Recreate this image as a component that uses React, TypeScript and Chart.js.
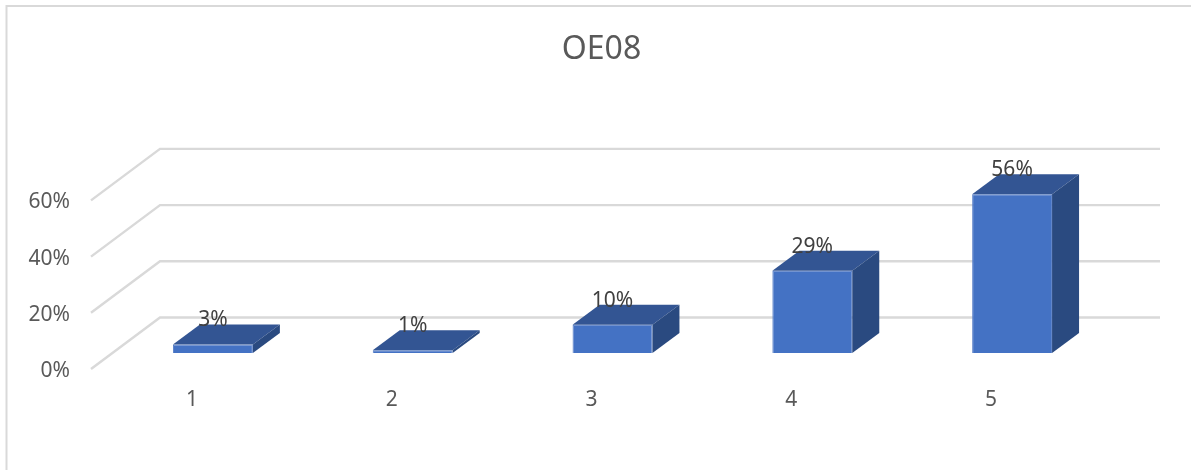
import { useEffect, useRef } from "react";
import { Chart, registerables } from "chart.js";

Chart.register(...registerables);

const categories = ["1", "2", "3", "4", "5"];
const shares = [3, 1, 10, 29, 56];
const chartTitle = "OE08";

const FONT = '"Noto Sans", "Open Sans", sans-serif';
const FRONT = "#4472C4";
const TOP = "#335593";
const SIDE = "#2A4A80";
const EDGE = "#5A80C8";
const GRID = "#D9D9D9";

// Box depth of the bars and of the floor, in canvas pixels.
const BAR_DX = 27;
const BAR_DY = -20;
const WALL_DX = 69;
const WALL_DY = -51.5;
const WALL_RIGHT = 1160;

const face = (ctx: CanvasRenderingContext2D, pts: number[][], fill: string) => {
  ctx.beginPath();
  pts.forEach(([x, y], i) => (i ? ctx.lineTo(x, y) : ctx.moveTo(x, y)));
  ctx.closePath();
  ctx.fillStyle = fill;
  ctx.fill();
};

// Frame of the chart object: only its top and left edges are visible.
const framePlugin = {
  id: "frame",
  beforeDraw(chart: Chart) {
    const { ctx, width, height } = chart;
    ctx.save();
    ctx.fillStyle = "#FFFFFF";
    ctx.fillRect(0, 0, width, height);
    ctx.strokeStyle = GRID;
    ctx.lineWidth = 2;
    ctx.beginPath();
    ctx.moveTo(6.5, height);
    ctx.lineTo(6.5, 6);
    ctx.lineTo(width, 6);
    ctx.stroke();
    ctx.restore();
  },
};

// Gridlines run from the front of the floor to the back wall and across it.
const wallPlugin = {
  id: "wall",
  beforeDatasetsDraw(chart: Chart) {
    const { ctx, scales } = chart;
    const y = scales.y;
    ctx.save();
    ctx.strokeStyle = GRID;
    ctx.lineWidth = 2.4;
    y.ticks.forEach((_t: unknown, i: number) => {
      const py = y.getPixelForTick(i);
      ctx.beginPath();
      ctx.moveTo(91, py);
      ctx.lineTo(91 + WALL_DX, py + WALL_DY);
      ctx.lineTo(WALL_RIGHT, py + WALL_DY);
      ctx.stroke();
    });
    ctx.restore();
  },
};

// Top and side faces are extruded from each bar's own geometry.
const boxPlugin = {
  id: "box",
  afterDatasetDraw(chart: Chart) {
    const { ctx } = chart;
    const bars = chart.getDatasetMeta(0).data as any[];
    ctx.save();
    bars.forEach((bar, i) => {
      const { x, y, base, width } = bar.getProps(["x", "y", "base", "width"], true);
      const l = x - width / 2;
      const r = x + width / 2;
      face(ctx, [[l, y], [l + BAR_DX, y + BAR_DY], [r + BAR_DX, y + BAR_DY], [r, y]], TOP);
      face(ctx, [[r, y], [r + BAR_DX, y + BAR_DY], [r + BAR_DX, base + BAR_DY], [r, base]], SIDE);
      ctx.fillStyle = "#404040";
      ctx.font = `21px ${FONT}`;
      ctx.textAlign = "center";
      ctx.textBaseline = "middle";
      ctx.fillText(`${shares[i]}%`, x, y - 24);
    });
    ctx.restore();
  },
};

export default function App() {
  const ref = useRef<HTMLCanvasElement>(null);

  useEffect(() => {
    if (!ref.current) return;
    const chart = new Chart(ref.current, {
      type: "bar",
      plugins: [framePlugin, wallPlugin, boxPlugin],
      data: {
        labels: categories,
        datasets: [
          {
            data: shares,
            yAxisID: "yBar",
            backgroundColor: FRONT,
            borderColor: EDGE,
            borderWidth: 1,
            barPercentage: 0.4,
            categoryPercentage: 1,
            clip: false,
          },
        ],
      },
      options: {
        animation: false,
        responsive: false,
        layout: { padding: { left: 12, right: 0, top: 0, bottom: 0 } },
        plugins: {
          legend: { display: false },
          tooltip: { enabled: false },
          title: {
            display: true,
            text: chartTitle,
            color: "#595959",
            font: { family: FONT, size: 32, weight: "normal" },
            padding: { top: 31, bottom: 131 },
          },
        },
        scales: {
          x: {
            grid: { display: false },
            border: { display: false },
            afterFit: (s: any) => {
              s.height = 101;
            },
            ticks: {
              color: "#595959",
              font: { family: FONT, size: 21 },
              padding: 10,
              labelOffset: -21,
              maxRotation: 0,
            },
          },
          y: {
            min: 0,
            max: 60,
            grid: { display: false },
            border: { display: false },
            afterFit: (s: any) => {
              s.width = 101;
            },
            ticks: {
              stepSize: 20,
              color: "#595959",
              font: { family: FONT, size: 21 },
              padding: 35,
              labelOffset: 2,
              callback: (v: any) => `${v}%`,
            },
          },
          // Bars stand on a plane set back from the front edge of the floor.
          yBar: {
            position: "right",
            min: -5.65,
            max: 53.85,
            grid: { display: false },
            border: { display: false },
            ticks: { display: false },
            afterFit: (s: any) => {
              s.width = 79;
            },
          },
        },
      },
    } as any);
    return () => chart.destroy();
  }, []);

  return (
    <div style={{ position: "fixed", left: 0, top: 0 }}>
      <canvas ref={ref} width={1191} height={470} style={{ display: "block" }} />
    </div>
  );
}
